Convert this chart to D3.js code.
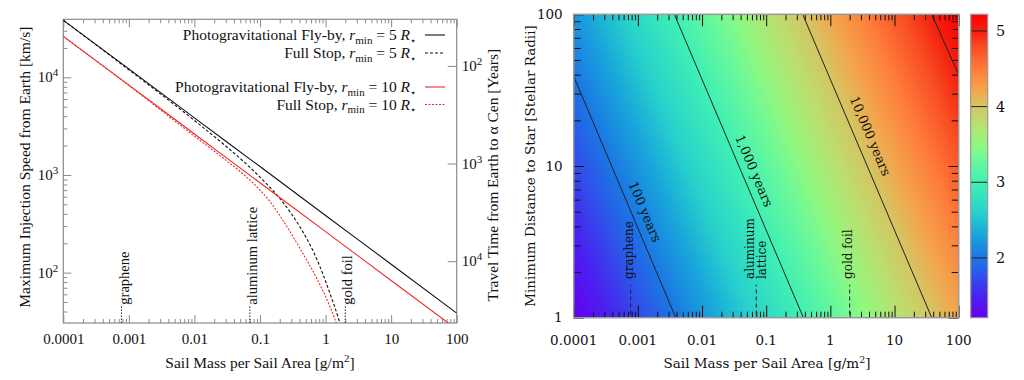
<!DOCTYPE html>
<html><head><meta charset="utf-8">
<script src="https://cdn.jsdelivr.net/npm/d3@7"></script>
<style>
html,body{margin:0;padding:0;background:#fff;}
svg{display:block;}
</style></head><body>
<svg id="chart" width="1024" height="380"></svg>
<script>
// ---------------- DATA ----------------
const sigmaTicks = [0.0001, 0.001, 0.01, 0.1, 1, 10, 100];
const sigmaTickLabels = ["0.0001", "0.001", "0.01", "0.1", "1", "10", "100"];
const speedTicks = [100, 1000, 10000];
const speedTickExp = ["2", "3", "4"];
const travelTicks = [100, 1000, 10000];
const travelTickExp = ["2", "3", "4"];
const travelConst = 1.31e6;          // years * km/s, Earth -> alpha Cen
const speedDomain = [30.5, 39300];

const flybyR5Sigma = [0.0001, 0.001, 0.01, 0.1, 1, 10, 100];
const flybyR5Speed = [38500, 12200, 3850, 1220, 385, 122, 38.5];
const flybyR10Sigma = [0.0001, 0.001, 0.01, 0.1, 1, 10, 100];
const flybyR10Speed = [26300, 8320, 2630, 832, 263, 83.2, 26.3];
const stopR5Sigma = [0.0001, 0.001, 0.01, 0.03, 0.06, 0.1, 0.226, 0.405, 0.65, 0.92, 1.2, 1.55, 1.68, 1.75];
const stopR5Speed = [38300, 11950, 3620, 1980, 1320, 950, 521, 295, 165, 95, 58, 35, 29, 25];
const stopR10Sigma = [0.0001, 0.001, 0.01, 0.03, 0.06, 0.1, 0.1416, 0.223, 0.405, 0.73, 1.16, 1.39, 1.45, 1.5];
const stopR10Speed = [26200, 8250, 2500, 1420, 975, 700, 535, 344, 178, 88, 45.3, 33.2, 30.4, 28.5];

const legendLabels = ["Photogravitational Fly-by", "Full Stop", "Photogravitational Fly-by", "Full Stop"];
const legendRmin = ["5", "5", "10", "10"];

const materialNames = ["graphene", "aluminum lattice", "gold foil"];
const materialLines = [["graphene"], ["aluminum", "lattice"], ["gold foil"]];
const materialSigma = [0.00077, 0.07, 2.0];
const materialSpeedRange = [30.5, 46];     // left panel marker extent
const materialLabelSpeed = 47;
const materialRadiusRange = [1.05, 1.65];  // right panel marker extent
const materialLabelRadius = 1.8;

const radiusTicks = [1, 10, 100];
const radiusTickLabels = ["1", "10", "100"];
const gridSigma = [0.0001, 0.001, 0.01, 0.1, 1, 10, 100];
const gridRadius = [1, 10, 100];
const gridLogTime = [
  [1.21, 1.71, 2.21, 2.71, 3.21, 3.71, 4.21],
  [1.71, 2.21, 2.71, 3.21, 3.71, 4.21, 4.71],
  [2.21, 2.71, 3.21, 3.71, 4.21, 4.71, 5.21]
];
const contourSigma = [[0.0001, 0.0039], [0.0037, 0.38], [0.37, 38], [38, 100]];
const contourRadius = [[39, 1], [100, 1], [100, 1], [100, 40]];
const contourLabels = ["100 years", "1,000 years", "10,000 years", ""];
const contourLabelSigma = [0.00129, 0.0649, 4.2, null];
const contourLabelRadius = [5.0, 9.3, 15.8, null];

const colorTicks = [2, 3, 4, 5];
const colorDomain = [1.21, 5.22];

// ---------------- STYLE ----------------
const paletteValues = [1.21, 1.5, 1.8, 2.0, 2.3, 2.6, 3.0, 3.3, 3.5, 3.75, 4.0, 4.2, 4.5, 4.8, 5.0, 5.22];
const paletteColors = ["#6600f2", "#4a22f0", "#2c58ea", "#1c76e4", "#18a4dc", "#28d2cc", "#40f0b4", "#6cf89a",
                       "#90f880", "#b8e270", "#d4c664", "#f2a84e", "#ff7c3a", "#f84a22", "#f42010", "#ff0000"];
const serifL = "'Liberation Serif','Times New Roman',serif";
const serifR = "'DejaVu Serif',serif";
const red = "#ee2a2a";
const frameGray = "#8a8a8a";
const fsL = 15.5, fsTickL = 15;

const svg = d3.select("#chart");
const defs = svg.append("defs");

// ================= LEFT PANEL =================
const L = {x0: 63.3, x1: 456.7, y0: 19.3, y1: 323};
const xL = d3.scaleLog().domain([sigmaTicks[0], sigmaTicks[sigmaTicks.length - 1]]).range([L.x0, L.x1]);
const yL = d3.scaleLog().domain(speedDomain).range([L.y1, L.y0]);
const yT = d3.scaleLog().domain([travelConst / speedDomain[0], travelConst / speedDomain[1]]).range([L.y1, L.y0]);

defs.append("clipPath").attr("id", "clipL")
  .append("rect").attr("x", L.x0).attr("y", L.y0).attr("width", L.x1 - L.x0).attr("height", L.y1 - L.y0);

function styleAxis(g, color) {
  g.select(".domain").remove();
  g.selectAll(".tick line").attr("stroke", color);
}

const isMajor = v => sigmaTicks.some(t => Math.abs(Math.log10(v) - Math.log10(t)) < 1e-6);
const xMinor = xL.ticks().filter(v => !isMajor(v));
svg.append("g").attr("transform", `translate(0,${L.y1})`)
  .call(d3.axisBottom(xL).tickValues(xMinor).tickSize(-4).tickFormat(""))
  .call(g => styleAxis(g, frameGray));
svg.append("g").attr("transform", `translate(0,${L.y0})`)
  .call(d3.axisTop(xL).tickValues(xMinor).tickSize(-4).tickFormat(""))
  .call(g => styleAxis(g, frameGray));
svg.append("g").attr("transform", `translate(0,${L.y0})`)
  .call(d3.axisTop(xL).tickValues(sigmaTicks).tickSize(-8).tickFormat(""))
  .call(g => styleAxis(g, frameGray));
svg.append("g").attr("transform", `translate(0,${L.y1})`)
  .call(d3.axisBottom(xL).tickValues(sigmaTicks).tickSize(-8).tickPadding(10)
        .tickFormat((d, i) => sigmaTickLabels[i]))
  .call(g => styleAxis(g, frameGray))
  .call(g => g.selectAll("text").attr("font-family", serifL).attr("font-size", fsTickL).attr("fill", "#111"));

const yMinor = yL.ticks().filter(v => !speedTicks.includes(v));
svg.append("g").attr("transform", `translate(${L.x0},0)`)
  .call(d3.axisLeft(yL).tickValues(yMinor).tickSize(-4).tickFormat(""))
  .call(g => styleAxis(g, frameGray));
svg.append("g").attr("transform", `translate(${L.x0},0)`)
  .call(d3.axisLeft(yL).tickValues(speedTicks).tickSize(-8).tickFormat(""))
  .call(g => styleAxis(g, frameGray));
svg.append("g").attr("transform", `translate(${L.x1},0)`)
  .call(d3.axisRight(yT).tickValues(travelTicks).tickSize(-9).tickFormat(""))
  .call(g => styleAxis(g, frameGray));

speedTicks.forEach((v, i) => {
  const t = svg.append("text").attr("x", L.x0 - 5).attr("y", yL(v) + 5)
    .attr("text-anchor", "end").attr("font-family", serifL).attr("font-size", fsTickL).attr("fill", "#111");
  t.append("tspan").text("10");
  t.append("tspan").attr("dy", -6).attr("font-size", 11).text(speedTickExp[i]);
});
travelTicks.forEach((v, i) => {
  const t = svg.append("text").attr("x", L.x1 + 5).attr("y", yT(v) + 5)
    .attr("text-anchor", "start").attr("font-family", serifL).attr("font-size", fsTickL).attr("fill", "#111");
  t.append("tspan").text("10");
  t.append("tspan").attr("dy", -6).attr("font-size", 11).text(travelTickExp[i]);
});

svg.append("rect").attr("x", L.x0).attr("y", L.y0).attr("width", L.x1 - L.x0).attr("height", L.y1 - L.y0)
  .attr("fill", "none").attr("stroke", frameGray).attr("stroke-width", 1.2);

// material markers (left)
materialNames.forEach((name, i) => {
  const x = xL(materialSigma[i]);
  svg.append("line").attr("x1", x).attr("x2", x)
    .attr("y1", yL(materialSpeedRange[0])).attr("y2", yL(materialSpeedRange[1]))
    .attr("stroke", "#222").attr("stroke-width", 1).attr("stroke-dasharray", "1.5,1.5");
  svg.append("text").attr("transform", `translate(${x + 2},${yL(materialLabelSpeed)}) rotate(-90)`)
    .attr("dy", "0.35em").attr("text-anchor", "start")
    .attr("font-family", serifL).attr("font-size", 14.5).attr("fill", "#111").text(name);
});

// curves
const lineL = d3.line().x(d => xL(d[0])).y(d => yL(d[1])).curve(d3.curveMonotoneX);
const gCurves = svg.append("g").attr("clip-path", "url(#clipL)");
const series = [
  {s: flybyR5Sigma, v: flybyR5Speed, color: "#111", dash: null},
  {s: stopR5Sigma, v: stopR5Speed, color: "#111", dash: "3,2"},
  {s: flybyR10Sigma, v: flybyR10Speed, color: red, dash: null},
  {s: stopR10Sigma, v: stopR10Speed, color: red, dash: "2,1.5"}
];
series.forEach(se => {
  gCurves.append("path").datum(se.s.map((s, i) => [s, se.v[i]]))
    .attr("d", lineL).attr("fill", "none").attr("stroke", se.color).attr("stroke-width", 1.1)
    .attr("stroke-dasharray", se.dash);
});

// legend
const legendY = [35, 53, 87, 104.5];
legendLabels.forEach((lab, i) => {
  const y = legendY[i];
  const t = svg.append("text").attr("x", 416).attr("y", y + 5).attr("text-anchor", "end")
    .attr("font-family", serifL).attr("font-size", fsL).attr("fill", "#111");
  t.append("tspan").text(lab + ", ");
  t.append("tspan").attr("font-style", "italic").text("r");
  t.append("tspan").attr("font-size", 11).attr("dy", 3.5).text("min");
  t.append("tspan").attr("dy", -3.5).text(" = " + legendRmin[i] + " ");
  t.append("tspan").attr("font-style", "italic").text("R");
  t.append("tspan").attr("font-size", 9.5).attr("dy", 3.5).text("\u22C6");
  svg.append("line").attr("x1", 425).attr("x2", 445).attr("y1", y).attr("y2", y)
    .attr("stroke", series[i].color).attr("stroke-width", 1.1).attr("stroke-dasharray", series[i].dash);
});

svg.append("text").attr("transform", `translate(30,${(L.y0 + L.y1) / 2 - 4}) rotate(-90)`)
  .attr("text-anchor", "middle").attr("font-family", serifL).attr("font-size", fsL).attr("fill", "#111")
  .text("Maximum Injection Speed from Earth [km/s]");
svg.append("text").attr("transform", `translate(498,${(L.y0 + L.y1) / 2 + 4}) rotate(-90)`)
  .attr("text-anchor", "middle").attr("font-family", serifL).attr("font-size", fsL).attr("fill", "#111")
  .text("Travel Time from Earth to \u03B1 Cen [Years]");
{
  const t = svg.append("text").attr("x", (L.x0 + L.x1) / 2).attr("y", 368).attr("text-anchor", "middle")
    .attr("font-family", serifL).attr("font-size", fsL).attr("fill", "#111");
  t.append("tspan").text("Sail Mass per Sail Area [g/m");
  t.append("tspan").attr("dy", -6).attr("font-size", 11).text("2");
  t.append("tspan").attr("dy", 6).text("]");
}

// ================= RIGHT PANEL =================
const R = {x0: 573.7, x1: 958.7, y0: 14.3, y1: 317.7};
const xR = d3.scaleLog().domain([sigmaTicks[0], sigmaTicks[sigmaTicks.length - 1]]).range([R.x0, R.x1]);
const yR = d3.scaleLog().domain([radiusTicks[0], radiusTicks[radiusTicks.length - 1]]).range([R.y1, R.y0]);
const color = d3.scaleLinear().domain(paletteValues).range(paletteColors).interpolate(d3.interpolateRgb).clamp(true);

defs.append("clipPath").attr("id", "clipR")
  .append("rect").attr("x", R.x0).attr("y", R.y0).attr("width", R.x1 - R.x0).attr("height", R.y1 - R.y0);

{
  const W = Math.round(R.x1 - R.x0), H = Math.round(R.y1 - R.y0);
  const cv = document.createElement("canvas");
  cv.width = W; cv.height = H;
  const ctx = cv.getContext("2d");
  const img = ctx.createImageData(W, H);
  const gi = d3.scaleLinear().domain(gridSigma.map(Math.log10)).range(d3.range(gridSigma.length)).clamp(true);
  const gj = d3.scaleLinear().domain(gridRadius.map(Math.log10)).range(d3.range(gridRadius.length)).clamp(true);
  for (let j = 0; j < H; j++) {
    const fj = gj(Math.log10(yR.invert(R.y0 + j + 0.5)));
    const j0 = Math.min(Math.floor(fj), gridRadius.length - 2), tj = fj - j0;
    for (let i = 0; i < W; i++) {
      const fi = gi(Math.log10(xR.invert(R.x0 + i + 0.5)));
      const i0 = Math.min(Math.floor(fi), gridSigma.length - 2), ti = fi - i0;
      const v = (1 - tj) * ((1 - ti) * gridLogTime[j0][i0] + ti * gridLogTime[j0][i0 + 1]) +
                tj * ((1 - ti) * gridLogTime[j0 + 1][i0] + ti * gridLogTime[j0 + 1][i0 + 1]);
      const c = d3.rgb(color(v));
      const k = (j * W + i) * 4;
      img.data[k] = c.r; img.data[k + 1] = c.g; img.data[k + 2] = c.b; img.data[k + 3] = 255;
    }
  }
  ctx.putImageData(img, 0, 0);
  svg.append("image").attr("x", R.x0).attr("y", R.y0).attr("width", R.x1 - R.x0).attr("height", R.y1 - R.y0)
    .attr("preserveAspectRatio", "none").attr("href", cv.toDataURL());
}

const gCont = svg.append("g").attr("clip-path", "url(#clipR)");
contourSigma.forEach((ss, k) => {
  gCont.append("line")
    .attr("x1", xR(ss[0])).attr("y1", yR(contourRadius[k][0]))
    .attr("x2", xR(ss[1])).attr("y2", yR(contourRadius[k][1]))
    .attr("stroke", "#222").attr("stroke-width", 1);
  if (contourLabels[k]) {
    const ang = Math.atan2(yR(contourRadius[k][1]) - yR(contourRadius[k][0]), xR(ss[1]) - xR(ss[0])) * 180 / Math.PI;
    svg.append("text")
      .attr("transform", `translate(${xR(contourLabelSigma[k])},${yR(contourLabelRadius[k])}) rotate(${ang})`)
      .attr("dy", "0.35em").attr("text-anchor", "middle")
      .attr("font-family", serifR).attr("font-size", 13).attr("fill", "#111").text(contourLabels[k]);
  }
});

materialNames.forEach((name, i) => {
  const x = xR(materialSigma[i]);
  svg.append("line").attr("x1", x).attr("x2", x)
    .attr("y1", yR(materialRadiusRange[0])).attr("y2", yR(materialRadiusRange[1]))
    .attr("stroke", "#222").attr("stroke-width", 1).attr("stroke-dasharray", "4,3");
  const lines = materialLines[i];
  lines.forEach((ln, li) => {
    const off = (li - (lines.length - 1) / 2) * 12 - (lines.length === 1 ? 2 : 0);
    svg.append("text").attr("transform", `translate(${x + off},${yR(materialLabelRadius)}) rotate(-90)`)
      .attr("dy", "0.35em").attr("text-anchor", "start")
      .attr("font-family", serifR).attr("font-size", 12).attr("fill", "#111").text(ln);
  });
});

const xMinorR = xR.ticks().filter(v => !isMajor(v));
const yMinorR = yR.ticks().filter(v => !radiusTicks.includes(v));
[[d3.axisBottom, R.y1], [d3.axisTop, R.y0]].forEach(([ax, y]) => {
  svg.append("g").attr("transform", `translate(0,${y})`)
    .call(ax(xR).tickValues(xMinorR).tickSize(-6).tickFormat("")).call(g => styleAxis(g, "#111"));
  svg.append("g").attr("transform", `translate(0,${y})`)
    .call(ax(xR).tickValues(sigmaTicks).tickSize(-12).tickFormat("")).call(g => styleAxis(g, "#111"));
});
[[d3.axisLeft, R.x0], [d3.axisRight, R.x1]].forEach(([ax, x]) => {
  svg.append("g").attr("transform", `translate(${x},0)`)
    .call(ax(yR).tickValues(yMinorR).tickSize(-7).tickFormat("")).call(g => styleAxis(g, "#111"));
  svg.append("g").attr("transform", `translate(${x},0)`)
    .call(ax(yR).tickValues(radiusTicks).tickSize(-10).tickFormat("")).call(g => styleAxis(g, "#111"));
});
svg.append("rect").attr("x", R.x0).attr("y", R.y0).attr("width", R.x1 - R.x0).attr("height", R.y1 - R.y0)
  .attr("fill", "none").attr("stroke", "#999").attr("stroke-width", 1.5);

sigmaTicks.forEach((v, i) => {
  svg.append("text").attr("x", xR(v)).attr("y", R.y1 + 27).attr("text-anchor", "middle")
    .attr("font-family", serifR).attr("font-size", 13.5).attr("fill", "#111").text(sigmaTickLabels[i]);
});
radiusTicks.forEach((v, i) => {
  svg.append("text").attr("x", R.x0 - 11).attr("y", yR(v)).attr("dy", "0.35em").attr("text-anchor", "end")
    .attr("font-family", serifR).attr("font-size", 13.5).attr("fill", "#111").text(radiusTickLabels[i]);
});
svg.append("text").attr("transform", `translate(535,${(R.y0 + R.y1) / 2}) rotate(-90)`)
  .attr("text-anchor", "middle").attr("font-family", serifR).attr("font-size", 13.5).attr("fill", "#111")
  .text("Minimum Distance to Star [Stellar Radii]");
{
  const t = svg.append("text").attr("x", 767).attr("y", 368).attr("text-anchor", "middle")
    .attr("font-family", serifR).attr("font-size", 13.5).attr("fill", "#111");
  t.append("tspan").text("Sail Mass per Sail Area [g/m");
  t.append("tspan").attr("dy", -5).attr("font-size", 9.5).text("2");
  t.append("tspan").attr("dy", 5).text("]");
}

// colorbar
const CB = {x0: 970.7, x1: 987.7, y0: 14.3, y1: 317.7};
const yC = d3.scaleLinear().domain(colorDomain).range([CB.y1, CB.y0]);
{
  const grad = defs.append("linearGradient").attr("id", "cbgrad")
    .attr("x1", 0).attr("y1", 1).attr("x2", 0).attr("y2", 0);
  d3.range(0, 1.0001, 0.02).forEach(f => {
    const v = colorDomain[0] + f * (colorDomain[1] - colorDomain[0]);
    grad.append("stop").attr("offset", f).attr("stop-color", color(v));
  });
  svg.append("rect").attr("x", CB.x0).attr("y", CB.y0).attr("width", CB.x1 - CB.x0).attr("height", CB.y1 - CB.y0)
    .attr("fill", "url(#cbgrad)");
  colorTicks.forEach(v => {
    svg.append("line").attr("x1", CB.x0).attr("x2", CB.x1).attr("y1", yC(v)).attr("y2", yC(v))
      .attr("stroke", "#222").attr("stroke-width", 1);
    svg.append("text").attr("x", CB.x1 + 13).attr("y", yC(v)).attr("dy", "0.35em")
      .attr("text-anchor", "middle").attr("font-family", serifR).attr("font-size", 14.5).attr("fill", "#111").text(v);
  });
  svg.append("rect").attr("x", CB.x0).attr("y", CB.y0).attr("width", CB.x1 - CB.x0).attr("height", CB.y1 - CB.y0)
    .attr("fill", "none").attr("stroke", "#999").attr("stroke-width", 1.2);
}
</script>
</body></html>
